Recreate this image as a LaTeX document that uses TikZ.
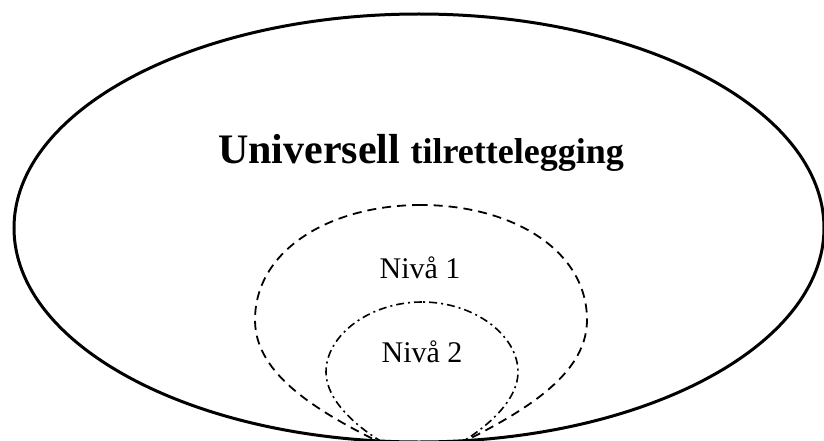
\documentclass[tikz,border=0pt]{standalone}
\usepackage{fontspec}
\setmainfont{Liberation Serif}
\begin{document}
\begin{tikzpicture}[x=1pt,y=-1pt,
  outerline/.style={line width=3pt},
  levelone/.style={line width=1.8pt, dash pattern=on 9pt off 6pt},
  leveltwo/.style={line width=1.6pt, dash pattern=on 8pt off 4pt on 2pt off 4pt},
  txt/.style={inner sep=0pt, anchor=base}]
\useasboundingbox (0,0) rectangle (824,441);
\clip (0,0) rectangle (824,441);
% outer ellipse
\draw[outerline] (419,228) ellipse [x radius=405, y radius=214];
% level 1 (dashed drop shape)
\draw[levelone] (421,205) .. controls (330,205) and (255,250) .. (255,320)
  .. controls (255,380) and (330,420) .. (421,462)
  .. controls (512,420) and (587,380) .. (587,320)
  .. controls (587,250) and (512,205) .. cycle;
% level 2 (dash-dot drop shape)
\draw[leveltwo] (422,302) .. controls (370,302) and (326,335) .. (326,372)
  .. controls (326,405) and (368,440) .. (422,462)
  .. controls (476,440) and (518,405) .. (518,372)
  .. controls (518,335) and (474,302) .. cycle;
% labels
\node[txt, font=\bfseries\fontsize{42}{50}\selectfont] (title) at (421,163)
  {Universell {\fontsize{36}{40}\selectfont tilrettelegging}};
\node[txt, font=\fontsize{30}{36}\selectfont] (n1) at (420,278) {Nivå 1};
\node[txt, font=\fontsize{30}{36}\selectfont] (n2) at (422,362) {Nivå 2};
\end{tikzpicture}
\end{document}
